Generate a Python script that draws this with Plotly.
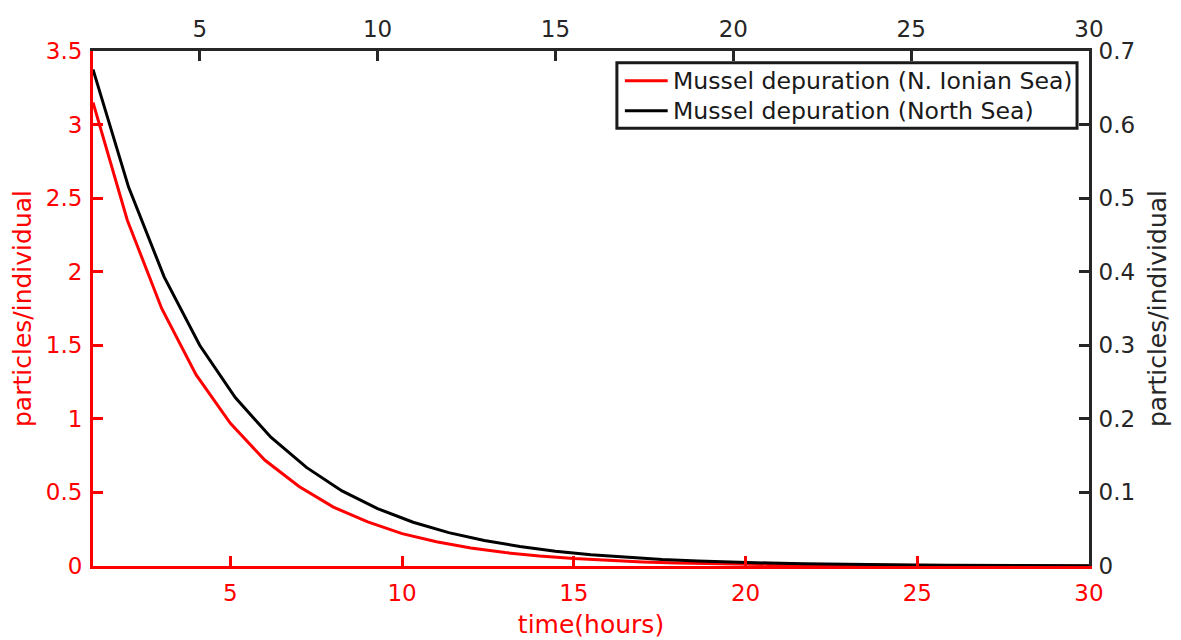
import plotly.graph_objects as go

# Red series: bottom time axis (hours), left y axis
t_ionian = list(range(1, 31))
ionian = [3.15, 2.35, 1.75, 1.30, 0.97, 0.72, 0.54, 0.40, 0.30, 0.22,
          0.165, 0.123, 0.091, 0.068, 0.051, 0.038, 0.028, 0.021, 0.016, 0.012,
          0.009, 0.0066, 0.0049, 0.0037, 0.0027, 0.002, 0.0015, 0.0011, 0.0008, 0.0006]

# Black series: top time axis (hours), right y axis
t_north = list(range(2, 31))
north = [0.675, 0.515, 0.393, 0.300, 0.229, 0.175, 0.134, 0.102, 0.078, 0.0595,
         0.0454, 0.0347, 0.0265, 0.0202, 0.0154, 0.0118, 0.0090, 0.0069, 0.0052, 0.0040,
         0.0031, 0.0023, 0.0018, 0.0014, 0.0010, 0.0008, 0.0006, 0.0005, 0.0004]

series_names = ["Mussel depuration (N. Ionian Sea)", "Mussel depuration (North Sea)"]
series_colors = ["#ff0000", "#000000"]

bottom_ticks = [5, 10, 15, 20, 25, 30]
top_ticks = [5, 10, 15, 20, 25, 30]
left_ticks = [0, 0.5, 1, 1.5, 2, 2.5, 3, 3.5]
right_ticks = [0, 0.1, 0.2, 0.3, 0.4, 0.5, 0.6, 0.7]

RED = "#ff0000"
BLK = "#262626"
FONT = "DejaVu Sans"
TICK = 23
TITLE = 25

fig = go.Figure()
fig.add_trace(go.Scatter(x=t_ionian, y=ionian, mode="lines",
                         line=dict(color=series_colors[0], width=3),
                         name=series_names[0], xaxis="x", yaxis="y"))
fig.add_trace(go.Scatter(x=t_north, y=north, mode="lines",
                         line=dict(color=series_colors[1], width=3),
                         name=series_names[1], xaxis="x2", yaxis="y2"))

common = dict(showgrid=False, zeroline=False, showline=True, linewidth=3,
              ticks="inside", ticklen=10, tickwidth=3, automargin=False)

# Legend box drawn in paper coordinates (MATLAB-style boxed legend)
lg_x0, lg_x1, lg_y0, lg_y1 = 0.526, 0.988, 0.850, 0.977
row_y = [0.942, 0.884]
shapes = [dict(type="rect", xref="paper", yref="paper", x0=lg_x0, x1=lg_x1, y0=lg_y0, y1=lg_y1,
               line=dict(color="#1a1a1a", width=3), fillcolor="white", layer="above")]
annotations = []
for name, col, yy in zip(series_names, series_colors, row_y):
    shapes.append(dict(type="line", xref="paper", yref="paper", x0=0.534, x1=0.577, y0=yy, y1=yy,
                       line=dict(color=col, width=3), layer="above"))
    annotations.append(dict(xref="paper", yref="paper", x=0.580, y=yy, xanchor="left", yanchor="middle",
                            text=name, showarrow=False,
                            font=dict(family=FONT, size=23.6, color="#1a1a1a")))

fig.update_layout(
    width=1181, height=640,
    margin=dict(l=85, r=100, t=43, b=82),
    paper_bgcolor="white", plot_bgcolor="white",
    font=dict(family=FONT, size=TICK),
    xaxis=dict(range=[1, 30], tickvals=bottom_ticks, linecolor=RED, tickcolor=RED,
               tickfont=dict(color=RED, size=TICK), ticklabelstandoff=4,
               title=dict(text="time(hours)", font=dict(color=RED, size=TITLE), standoff=11),
               **common),
    xaxis2=dict(range=[2, 30], tickvals=top_ticks, overlaying="x", side="top",
                linecolor=BLK, tickcolor=BLK, tickfont=dict(color=BLK, size=TICK),
                ticklabelstandoff=2,
                **common),
    yaxis=dict(range=[0, 3.5], tickvals=left_ticks, linecolor=RED, tickcolor=RED,
               tickfont=dict(color=RED, size=TICK), ticklabelstandoff=3,
               title=dict(text="particles/individual", font=dict(color=RED, size=TITLE), standoff=10),
               **common),
    yaxis2=dict(range=[0, 0.7], tickvals=right_ticks, overlaying="y", side="right",
                linecolor=BLK, tickcolor=BLK, tickfont=dict(color=BLK, size=TICK),
                ticklabelstandoff=2,
                title=dict(text="particles/individual", font=dict(color=BLK, size=TITLE), standoff=15),
                **common),
    shapes=shapes,
    annotations=annotations,
    showlegend=False,
)

fig.write_html("out.html")
